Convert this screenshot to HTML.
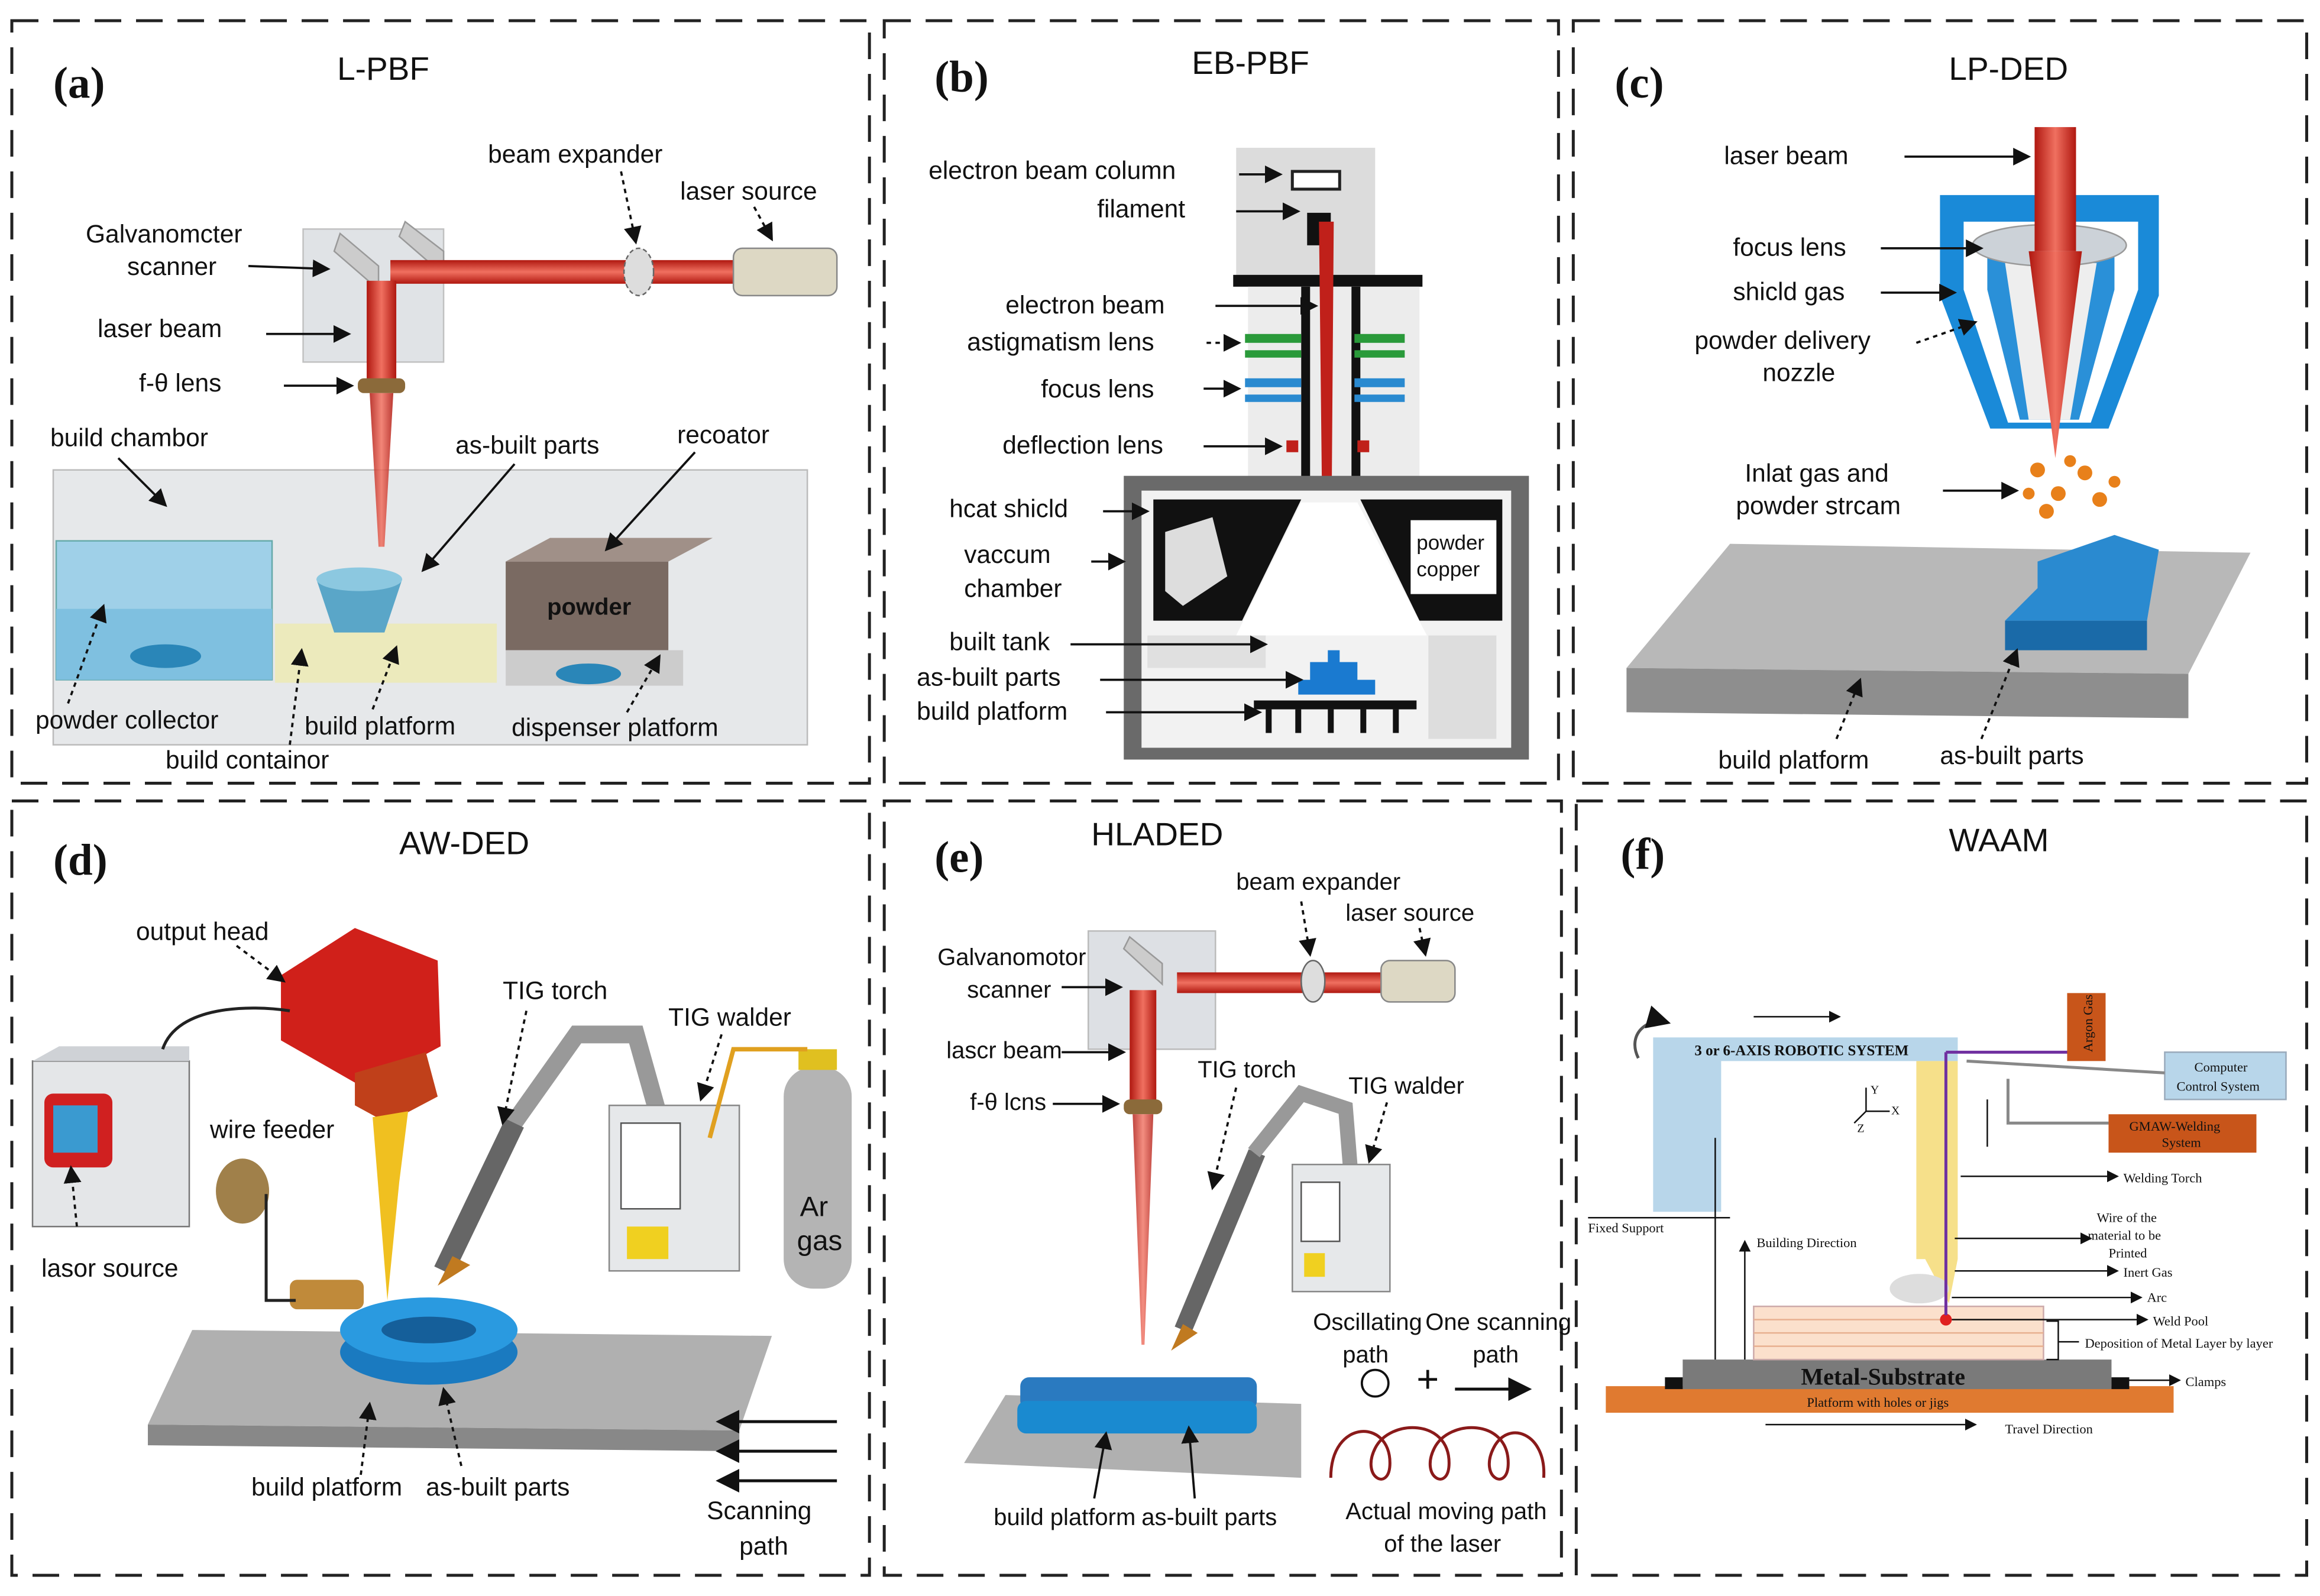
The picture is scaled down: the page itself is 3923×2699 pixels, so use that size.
<!DOCTYPE html>
<html><head><meta charset="utf-8"><style>
html,body{margin:0;padding:0;background:#fff}
svg{display:block}
text{font-family:"Liberation Sans",sans-serif;fill:#111}
.s{font-family:"Liberation Serif",serif}
</style></head><body>
<svg width="3923" height="2699" viewBox="0 0 1569 1080" preserveAspectRatio="none" xmlns="http://www.w3.org/2000/svg">
<defs>
<marker id="ar" markerWidth="8" markerHeight="8" refX="7" refY="4" orient="auto"><path d="M0,0 L8,4 L0,8 z" fill="#111"/></marker>
<linearGradient id="beam" x1="0" x2="1"><stop offset="0" stop-color="#b01810"/><stop offset=".5" stop-color="#f07060"/><stop offset="1" stop-color="#b01810"/></linearGradient>
<linearGradient id="beamh" x1="0" y1="0" x2="0" y2="1"><stop offset="0" stop-color="#b01810"/><stop offset=".5" stop-color="#f07060"/><stop offset="1" stop-color="#b01810"/></linearGradient>
</defs>
<rect width="1569" height="1080" fill="#fff"/>
<g fill="none" stroke="#222" stroke-width="2" stroke-dasharray="18,10">
<rect x="8" y="14" width="580" height="516"/>
<rect x="598" y="14" width="456" height="516"/>
<rect x="1064" y="14" width="496" height="516"/>
<rect x="8" y="542" width="580" height="524"/>
<rect x="598" y="542" width="458" height="524"/>
<rect x="1066" y="542" width="494" height="524"/>
</g>
<g class="s" font-weight="bold" font-size="30">
<text class="s" x="36" y="66">(a)</text><text class="s" x="632" y="62">(b)</text><text class="s" x="1092" y="66">(c)</text>
<text class="s" x="36" y="592">(d)</text><text class="s" x="632" y="590">(e)</text><text class="s" x="1096" y="588">(f)</text>
</g>
<g font-size="22"><text x="228" y="54">L-PBF</text><text x="806" y="50">EB-PBF</text><text x="1318" y="54">LP-DED</text>
<text x="270" y="578">AW-DED</text><text x="738" y="572">HLADED</text><text x="1318" y="576">WAAM</text></g>

<!-- PANEL A -->
<rect x="36" y="318" width="510" height="186" fill="#e6e8ea" stroke="#bbb"/>
<rect x="38" y="366" width="146" height="94" fill="#9fd0e8" stroke="#6aa"/>
<rect x="38" y="412" width="146" height="48" fill="#7fc0e0"/>
<ellipse cx="112" cy="444" rx="24" ry="8" fill="#2a86b8"/>
<rect x="186" y="422" width="150" height="40" fill="#eeeab0" opacity=".8"/>
<path d="M214,392 L272,392 L260,428 L226,428 Z" fill="#5aa6c8"/>
<ellipse cx="243" cy="392" rx="29" ry="8" fill="#8cc8e0"/>
<rect x="342" y="380" width="110" height="60" fill="#7a6a62"/>
<path d="M342,380 L372,364 L482,364 L452,380Z" fill="#a09088"/>
<text x="370" y="416" font-size="16" fill="#fff" font-weight="bold">powder</text>
<rect x="342" y="440" width="120" height="24" fill="#ccc"/>
<ellipse cx="398" cy="456" rx="22" ry="7" fill="#2a86b8"/>
<rect x="205" y="155" width="95" height="90" fill="#dde0e4" stroke="#bbb" opacity=".9"/>
<path d="M226,170 L256,196 L256,180 L230,158Z" fill="#ccc" stroke="#999"/>
<path d="M270,160 L300,186 L300,170 L274,150Z" fill="#ccc" stroke="#999"/>
<rect x="264" y="176" width="234" height="16" fill="url(#beamh)"/>
<rect x="496" y="168" width="70" height="32" rx="6" fill="#ddd8c4" stroke="#888"/>
<ellipse cx="432" cy="184" rx="10" ry="16" fill="#ddd" stroke="#666" stroke-dasharray="3,2"/>
<rect x="248" y="190" width="20" height="68" fill="url(#beam)"/>
<rect x="242" y="256" width="32" height="10" rx="4" fill="#8b6a3a"/>
<path d="M250,266 L266,266 L260,370 L256,370Z" fill="url(#beam)" opacity=".85"/>
<g font-size="17">
<text x="330" y="110">beam expander</text><text x="460" y="135">laser source</text>
<text x="58" y="164">Galvanomcter</text><text x="86" y="186">scanner</text>
<text x="66" y="228">laser beam</text><text x="94" y="265">f-θ lens</text>
<text x="34" y="302">build chambor</text><text x="308" y="307">as-built parts</text><text x="458" y="300">recoator</text>
<text x="24" y="493">powder collector</text><text x="206" y="497">build platform</text><text x="346" y="498">dispenser platform</text>
<text x="112" y="520">build containor</text>
</g>
<g stroke="#111" stroke-width="1.5" fill="none" marker-end="url(#ar)">
<line x1="168" y1="180" x2="222" y2="182"/><line x1="180" y1="226" x2="236" y2="226"/><line x1="192" y1="261" x2="238" y2="261"/>
<line x1="420" y1="116" x2="430" y2="164" stroke-dasharray="3,3"/><line x1="510" y1="140" x2="522" y2="162" stroke-dasharray="3,3"/>
<line x1="80" y1="310" x2="112" y2="342"/><line x1="348" y1="314" x2="286" y2="386"/><line x1="470" y1="306" x2="410" y2="372"/>
<line x1="46" y1="476" x2="70" y2="410" stroke-dasharray="3,3"/><line x1="252" y1="480" x2="268" y2="438" stroke-dasharray="3,3"/>
<line x1="424" y1="482" x2="446" y2="444" stroke-dasharray="3,3"/><line x1="196" y1="504" x2="204" y2="440" stroke-dasharray="3,3"/>
</g>

<!-- PANEL B -->
<rect x="836" y="100" width="94" height="88" fill="#dcdcdc"/>
<rect x="874" y="116" width="32" height="12" fill="#fff" stroke="#222" stroke-width="2"/>
<rect x="884" y="144" width="16" height="22" fill="#111"/>
<rect x="834" y="186" width="128" height="8" fill="#111"/>
<rect x="844" y="194" width="116" height="128" fill="#ececec"/>
<rect x="880" y="194" width="6" height="150" fill="#111"/><rect x="914" y="194" width="6" height="150" fill="#111"/>
<path d="M892,150 L902,150 L900,420 L895,420Z" fill="#c0201a"/>
<rect x="842" y="226" width="38" height="6" fill="#2a9a3a"/><rect x="916" y="226" width="34" height="6" fill="#2a9a3a"/>
<rect x="842" y="237" width="38" height="5" fill="#2a9a3a"/><rect x="916" y="237" width="34" height="5" fill="#2a9a3a"/>
<rect x="842" y="256" width="38" height="6" fill="#2a8ad0"/><rect x="916" y="256" width="34" height="6" fill="#2a8ad0"/>
<rect x="842" y="267" width="38" height="5" fill="#2a8ad0"/><rect x="916" y="267" width="34" height="5" fill="#2a8ad0"/>
<rect x="870" y="298" width="8" height="8" fill="#c0201a"/><rect x="918" y="298" width="8" height="8" fill="#c0201a"/>
<rect x="760" y="322" width="274" height="192" fill="#6a6a6a"/>
<rect x="772" y="332" width="250" height="174" fill="#f2f2f2"/>
<path d="M780,338 L880,338 L840,420 L780,420Z" fill="#111"/>
<path d="M920,338 L1016,338 L1016,420 L960,420Z" fill="#111"/>
<path d="M788,360 L820,350 L830,390 L800,410 L788,400Z" fill="#ddd"/>
<rect x="954" y="352" width="58" height="50" fill="#fff"/>
<text x="958" y="372" font-size="14">powder</text><text x="958" y="390" font-size="14">copper</text>
<path d="M880,340 L918,340 L965,430 L836,430Z" fill="#fff"/>
<rect x="776" y="430" width="80" height="22" fill="#e0e0e0"/><rect x="966" y="430" width="46" height="70" fill="#ddd"/>
<path d="M878,470 L930,470 L930,460 L918,460 L918,448 L906,448 L906,440 L898,440 L898,448 L886,448 L886,460 L878,460Z" fill="#1a7ad0"/>
<rect x="848" y="474" width="110" height="6" fill="#111"/>
<g fill="#111"><rect x="856" y="480" width="4" height="16"/><rect x="876" y="480" width="4" height="16"/><rect x="898" y="480" width="4" height="16"/><rect x="920" y="480" width="4" height="16"/><rect x="942" y="480" width="4" height="16"/></g>
<g font-size="17">
<text x="628" y="121">electron beam column</text><text x="742" y="147">filament</text>
<text x="680" y="212">electron beam</text><text x="654" y="237">astigmatism lens</text><text x="704" y="269">focus lens</text>
<text x="678" y="307">deflection lens</text><text x="642" y="350">hcat shicld</text>
<text x="652" y="381">vaccum</text><text x="652" y="404">chamber</text>
<text x="642" y="440">built tank</text><text x="620" y="464">as-built parts</text><text x="620" y="487">build platform</text>
</g>
<g stroke="#111" stroke-width="1.5" fill="none" marker-end="url(#ar)">
<line x1="838" y1="118" x2="866" y2="118"/><line x1="836" y1="143" x2="878" y2="143"/><line x1="822" y1="207" x2="890" y2="207"/>
<line x1="816" y1="232" x2="838" y2="232" stroke-dasharray="3,3"/><line x1="814" y1="263" x2="838" y2="263"/><line x1="814" y1="302" x2="866" y2="302"/>
<line x1="746" y1="346" x2="776" y2="346"/><line x1="738" y1="380" x2="760" y2="380"/>
<line x1="724" y1="436" x2="856" y2="436"/><line x1="744" y1="460" x2="880" y2="460"/><line x1="748" y1="482" x2="852" y2="482"/>
</g>

<!-- PANEL C -->
<path d="M1312,132 L1460,132 L1460,200 L1426,290 L1346,290 L1312,200Z" fill="#1a8ad8"/>
<path d="M1328,150 L1446,150 L1446,196 L1414,286 L1358,286 L1328,196Z" fill="#fff"/>
<path d="M1344,168 L1430,168 L1430,196 L1406,284 L1366,284 L1344,196Z" fill="#2a90d8"/>
<path d="M1356,178 L1418,178 L1400,284 L1372,284Z" fill="#eee"/>
<ellipse cx="1386" cy="166" rx="52" ry="14" fill="#ccd2d8" stroke="#999"/>
<rect x="1376" y="86" width="28" height="84" fill="url(#beam)"/>
<path d="M1372,170 L1408,170 L1390,310Z" fill="url(#beam)"/>
<g fill="#e8801a"><circle cx="1378" cy="318" r="5"/><circle cx="1392" cy="334" r="5"/><circle cx="1384" cy="346" r="5"/><circle cx="1410" cy="320" r="5"/><circle cx="1420" cy="338" r="5"/><circle cx="1400" cy="312" r="4"/><circle cx="1430" cy="326" r="4"/><circle cx="1372" cy="334" r="4"/></g>
<path d="M1100,452 L1170,368 L1522,374 L1480,456Z" fill="#b8b8b8"/>
<path d="M1100,452 L1480,456 L1480,486 L1100,482Z" fill="#8e8e8e"/>
<path d="M1356,420 L1452,420 L1452,440 L1356,440Z" fill="#1a6aa8"/>
<path d="M1378,380 L1430,362 L1460,372 L1452,420 L1356,420 L1378,398Z" fill="#2a8ad0"/>
<g font-size="17">
<text x="1166" y="111">laser beam</text><text x="1172" y="173">focus lens</text><text x="1172" y="203">shicld gas</text>
<text x="1146" y="236">powder delivery</text><text x="1192" y="258">nozzle</text>
<text x="1180" y="326">Inlat gas and</text><text x="1174" y="348">powder strcam</text>
<text x="1162" y="520">build platform</text><text x="1312" y="517">as-built parts</text>
</g>
<g stroke="#111" stroke-width="1.5" fill="none" marker-end="url(#ar)">
<line x1="1288" y1="106" x2="1372" y2="106"/><line x1="1272" y1="168" x2="1340" y2="168"/><line x1="1272" y1="198" x2="1322" y2="198"/>
<line x1="1296" y1="232" x2="1336" y2="218" stroke-dasharray="3,3"/><line x1="1314" y1="332" x2="1364" y2="332"/>
<line x1="1242" y1="500" x2="1258" y2="460" stroke-dasharray="3,3"/><line x1="1340" y1="500" x2="1364" y2="440" stroke-dasharray="3,3"/>
</g>

<!-- PANEL D -->
<rect x="22" y="718" width="106" height="112" fill="#e4e6e8" stroke="#777"/>
<path d="M22,718 L40,708 L128,708 L128,718Z" fill="#cfd2d6"/>
<rect x="30" y="740" width="46" height="50" rx="6" fill="#d02020"/><rect x="36" y="748" width="30" height="32" fill="#3a9ad0"/>
<path d="M100,964 L130,900 L522,904 L500,968Z" fill="#b0b0b0"/>
<path d="M100,964 L500,968 L500,982 L100,978Z" fill="#888"/>
<ellipse cx="290" cy="915" rx="60" ry="22" fill="#1a7ac0"/><ellipse cx="290" cy="900" rx="60" ry="22" fill="#2a9ae0"/><ellipse cx="290" cy="900" rx="32" ry="9" fill="#155f9a"/>
<path d="M190,660 L240,628 L296,650 L298,708 L246,736 L190,704Z" fill="#d0201a"/>
<path d="M240,726 L288,712 L296,742 L262,760 L240,748Z" fill="#c0401a"/>
<path d="M252,756 L276,752 L270,800 L262,880Z" fill="#f0c020"/>
<ellipse cx="164" cy="806" rx="18" ry="22" fill="#a0804a"/>
<rect x="196" y="866" width="50" height="20" rx="5" fill="#c08a3a"/>
<path d="M346,762 L390,700 L430,700 L444,750" stroke="#999" stroke-width="12" fill="none"/>
<path d="M300,860 L348,760" stroke="#666" stroke-width="14"/><path d="M296,870 L306,850 L318,856Z" fill="#c07a20"/>
<rect x="412" y="748" width="88" height="112" fill="#e6e8ea" stroke="#888"/><rect x="420" y="760" width="40" height="58" fill="#fff" stroke="#555"/><rect x="424" y="830" width="28" height="22" fill="#f0d020"/>
<rect x="530" y="722" width="46" height="150" rx="20" fill="#b4b4b4"/><rect x="540" y="710" width="26" height="14" fill="#e0c020"/>
<text x="541" y="823" font-size="19">Ar</text><text x="539" y="846" font-size="19">gas</text>
<path d="M480,770 L496,710 L546,710" stroke="#e0a020" stroke-width="3" fill="none"/>
<path d="M110,710 C120,680 170,680 196,684" stroke="#222" stroke-width="2" fill="none"/>
<path d="M180,808 L180,880 L200,880" stroke="#222" stroke-width="2" fill="none"/>
<g stroke="#111" stroke-width="2" marker-end="url(#ar)"><line x1="566" y1="962" x2="486" y2="962"/><line x1="566" y1="982" x2="486" y2="982"/><line x1="566" y1="1002" x2="486" y2="1002"/></g>
<g font-size="17">
<text x="92" y="636">output head</text><text x="340" y="676">TIG torch</text><text x="452" y="694">TIG walder</text>
<text x="142" y="770">wire feeder</text><text x="28" y="864">lasor source</text>
<text x="170" y="1012">build platform</text><text x="288" y="1012">as-built parts</text>
<text x="478" y="1028">Scanning</text><text x="500" y="1052">path</text>
</g>
<g stroke="#111" stroke-width="1.5" fill="none" marker-end="url(#ar)" stroke-dasharray="3,3">
<line x1="160" y1="640" x2="192" y2="664"/><line x1="356" y1="684" x2="340" y2="760"/><line x1="488" y1="700" x2="474" y2="744"/>
<line x1="52" y1="830" x2="48" y2="790"/><line x1="244" y1="998" x2="250" y2="950"/><line x1="312" y1="992" x2="300" y2="940"/>
</g>

<!-- PANEL E -->
<rect x="736" y="630" width="86" height="80" fill="#dde0e4" stroke="#bbb"/>
<path d="M760,642 L786,666 L786,652 L764,634Z" fill="#ccc" stroke="#999"/>
<rect x="796" y="658" width="142" height="14" fill="url(#beamh)"/>
<ellipse cx="888" cy="664" rx="8" ry="14" fill="#ddd" stroke="#666"/>
<rect x="934" y="650" width="50" height="28" rx="6" fill="#ddd8c4" stroke="#888"/>
<rect x="764" y="670" width="18" height="76" fill="url(#beam)"/>
<rect x="760" y="744" width="26" height="10" rx="4" fill="#8b6a3a"/>
<path d="M766,754 L780,754 L774,910 L772,910Z" fill="url(#beam)" opacity=".8"/>
<path d="M652,990 L680,944 L880,950 L880,1000Z" fill="#b0b0b0"/>
<rect x="690" y="932" width="160" height="22" rx="6" fill="#2a7ac0"/><rect x="688" y="948" width="162" height="22" rx="6" fill="#1a8ad0"/>
<path d="M800,900 L850,780" stroke="#666" stroke-width="12"/><path d="M792,914 L800,896 L810,902Z" fill="#c07a20"/>
<path d="M848,780 L880,740 L910,750 L914,800" stroke="#999" stroke-width="10" fill="none"/>
<rect x="874" y="788" width="66" height="86" fill="#e6e8ea" stroke="#888"/><rect x="880" y="800" width="26" height="40" fill="#fff" stroke="#555"/><rect x="882" y="848" width="14" height="16" fill="#f0d020"/>
<text x="958" y="942" font-size="26">+</text>
<circle cx="930" cy="936" r="9" fill="none" stroke="#111" stroke-width="1.5"/>
<line x1="984" y1="940" x2="1034" y2="940" stroke="#111" stroke-width="2" marker-end="url(#ar)"/>
<path d="M900,1000 C900,960 940,960 940,990 C940,1010 920,1000 930,980 C940,960 980,960 980,990 C980,1010 960,1000 970,980 C980,960 1020,960 1020,990 C1020,1010 1000,1000 1010,980 C1020,960 1046,970 1044,1000" stroke="#8a1a1a" stroke-width="2" fill="none"/>
<g font-size="16">
<text x="836" y="602">beam expander</text><text x="910" y="623">laser source</text>
<text x="634" y="653">Galvanomotor</text><text x="654" y="675">scanner</text><text x="640" y="716">lascr beam</text><text x="656" y="751">f-θ lcns</text>
<text x="810" y="729">TIG torch</text><text x="912" y="740">TIG walder</text>
<text x="888" y="900">Oscillating</text><text x="908" y="922">path</text><text x="964" y="900">One scanning</text><text x="996" y="922">path</text>
<text x="672" y="1032">build platform</text><text x="772" y="1032">as-built parts</text>
<text x="910" y="1028">Actual moving path</text><text x="936" y="1050">of the laser</text>
</g>
<g stroke="#111" stroke-width="1.5" fill="none" marker-end="url(#ar)">
<line x1="718" y1="668" x2="758" y2="668"/><line x1="718" y1="712" x2="760" y2="712"/><line x1="712" y1="747" x2="756" y2="747"/>
<line x1="880" y1="610" x2="886" y2="646" stroke-dasharray="3,3"/><line x1="960" y1="628" x2="964" y2="646" stroke-dasharray="3,3"/>
<line x1="836" y1="736" x2="820" y2="804" stroke-dasharray="3,3"/><line x1="938" y1="746" x2="926" y2="786" stroke-dasharray="3,3"/>
<line x1="740" y1="1014" x2="748" y2="970"/><line x1="808" y1="1014" x2="804" y2="966"/>
</g>

<!-- PANEL F -->
<rect x="1086" y="938" width="384" height="18" fill="#e07a30"/>
<text x="1222" y="952" font-size="9" fill="#fff" class="s">Platform with holes or jigs</text>
<rect x="1138" y="920" width="290" height="20" fill="#7a7a7a"/>
<rect x="1126" y="932" width="12" height="8" fill="#111"/><rect x="1428" y="932" width="12" height="8" fill="#111"/>
<text class="s" x="1218" y="937" font-size="16" font-weight="bold" fill="#fff">Metal-Substrate</text>
<rect x="1186" y="884" width="196" height="36" fill="#fbe0cc" stroke="#caa"/>
<g stroke="#e8b090" stroke-width="1"><line x1="1186" y1="893" x2="1382" y2="893"/><line x1="1186" y1="902" x2="1382" y2="902"/><line x1="1186" y1="911" x2="1382" y2="911"/></g>
<path d="M1118,702 L1324,702 L1324,718 L1164,718 L1164,820 L1118,820Z" fill="#b8d6ea"/>
<path d="M1296,718 L1324,718 L1324,852 L1318,882 L1302,852 L1296,852Z" fill="#f6e08a"/>
<ellipse cx="1298" cy="872" rx="20" ry="10" fill="#ddd"/>
<circle cx="1316" cy="893" r="4" fill="#e02020"/>
<line x1="1316" y1="712" x2="1316" y2="890" stroke="#7030a0" stroke-width="2"/>
<line x1="1316" y1="712" x2="1400" y2="712" stroke="#7030a0" stroke-width="2"/>
<rect x="1398" y="672" width="26" height="46" fill="#c8551a"/>
<text class="s" x="1415" y="712" font-size="9" fill="#fff" transform="rotate(-90 1415 712)">Argon Gas</text>
<rect x="1426" y="754" width="100" height="26" fill="#c8551a"/>
<text class="s" x="1440" y="765" font-size="9" fill="#fff">GMAW-Welding</text><text class="s" x="1462" y="776" font-size="9" fill="#fff">System</text>
<rect x="1464" y="712" width="82" height="32" fill="#b8d6ea" stroke="#9ab"/>
<text class="s" x="1484" y="725" font-size="9">Computer</text><text class="s" x="1472" y="738" font-size="9">Control System</text>
<path d="M1330,718 L1464,726" stroke="#888" stroke-width="2"/><path d="M1358,730 L1358,760 L1426,760" stroke="#888" stroke-width="2" fill="none"/>
<text class="s" x="1146" y="714" font-size="10" font-weight="bold">3 or 6-AXIS ROBOTIC SYSTEM</text>
<path d="M1108,716 C1100,700 1114,688 1128,692" stroke="#555" fill="none" stroke-width="2" marker-end="url(#ar)"/>
<line x1="1074" y1="824" x2="1170" y2="824" stroke="#111"/>
<line x1="1160" y1="770" x2="1160" y2="920" stroke="#111"/>
<line x1="1180" y1="920" x2="1180" y2="840" stroke="#111" marker-end="url(#ar)"/>
<line x1="1194" y1="964" x2="1336" y2="964" stroke="#111" marker-end="url(#ar)"/>
<g class="s" font-size="9">
<text class="s" x="1074" y="834">Fixed Support</text><text class="s" x="1188" y="844">Building Direction</text>
<text class="s" x="1436" y="800">Welding Torch</text><text class="s" x="1418" y="827">Wire of the</text><text class="s" x="1412" y="839">material to be</text><text class="s" x="1426" y="851">Printed</text>
<text class="s" x="1436" y="864">Inert Gas</text><text class="s" x="1452" y="881">Arc</text><text class="s" x="1456" y="897">Weld Pool</text>
<text class="s" x="1410" y="912">Deposition of Metal Layer by layer</text><text class="s" x="1478" y="938">Clamps</text><text class="s" x="1356" y="970">Travel Direction</text>
</g>
<g stroke="#111" stroke-width="1" marker-end="url(#ar)">
<line x1="1326" y1="796" x2="1432" y2="796"/><line x1="1322" y1="838" x2="1414" y2="838"/><line x1="1322" y1="860" x2="1432" y2="860"/>
<line x1="1320" y1="878" x2="1448" y2="878"/><line x1="1320" y1="893" x2="1452" y2="893"/><line x1="1440" y1="934" x2="1474" y2="934"/>
</g>
<path d="M1384,894 L1392,894 L1392,920 L1384,920" stroke="#111" fill="none"/><line x1="1392" y1="908" x2="1406" y2="908" stroke="#111"/>
<g stroke="#111"><line x1="1262" y1="752" x2="1262" y2="736"/><line x1="1262" y1="752" x2="1278" y2="752"/><line x1="1262" y1="752" x2="1254" y2="760"/></g>
<text class="s" x="1265" y="740" font-size="8">Y</text><text class="s" x="1279" y="754" font-size="8">X</text><text class="s" x="1256" y="766" font-size="8">Z</text>
<line x1="1186" y1="688" x2="1244" y2="688" stroke="#111" marker-end="url(#ar)"/>
<line x1="1344" y1="744" x2="1344" y2="776" stroke="#111"/>
</svg>
</body></html>
